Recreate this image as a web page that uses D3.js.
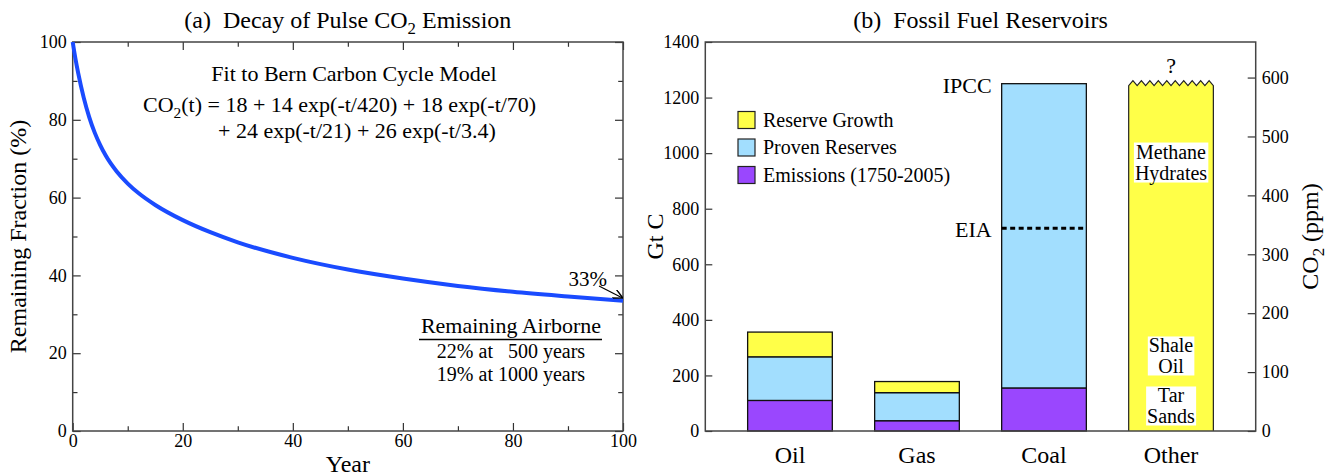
<!DOCTYPE html>
<html>
<head>
<meta charset="utf-8">
<script src="https://cdn.jsdelivr.net/npm/d3@7"></script>
<style>
  body { margin: 0; background: #fff; }
  svg text { font-family: "Liberation Serif", "Times New Roman", serif; fill: #000; }
</style>
</head>
<body>
<div id="chart"></div>
<script>
// (a) remaining airborne fraction of a CO2 pulse
const years = [0, 0.5, 1, 2, 3, 4, 5, 6, 8, 10, 12, 15, 20, 25, 30, 40, 50, 60, 70, 80, 90, 100];
const remaining = [100, 95.7, 92.0, 85.7, 80.7, 76.7, 73.5, 70.8, 66.7, 63.6, 61.1, 58.1, 54.2, 51.1, 48.5, 44.5, 41.5, 39.2, 37.3, 35.8, 34.6, 33.5];
const yearTicks = [0, 10, 20, 30, 40, 50, 60, 70, 80, 90, 100];
const fractionTicks = [0, 10, 20, 30, 40, 50, 60, 70, 80, 90, 100];

// (b) fossil fuel reservoirs, Gt C
const fuels = ["Oil", "Gas", "Coal", "Other"];
const emissions = [110, 37, 155, 0];
const proven = [157, 101, 1095, 0];
const reserveGrowth = [89, 40, 0, 1250];
const eiaCoal = 730;
const gtcTicks = [0, 200, 400, 600, 800, 1000, 1200, 1400];
const ppmTicks = [0, 100, 200, 300, 400, 500, 600];
const gtcPerPpm = 2.12;
const legendLabels = ["Reserve Growth", "Proven Reserves", "Emissions (1750-2005)"];
const colors = { growth: "#ffff48", proven: "#a2defe", emis: "#9a47fe" };

const W = 1328, H = 476;
const svg = d3.select("#chart").append("svg").attr("width", W).attr("height", H);

// arrow marker
svg.append("defs").append("marker")
  .attr("id", "arrow").attr("viewBox", "0 0 10 10").attr("refX", 9).attr("refY", 5)
  .attr("markerWidth", 8).attr("markerHeight", 8).attr("orient", "auto")
  .append("path").attr("d", "M0,0 L10,5 L0,10").attr("fill", "none").attr("stroke", "#000").attr("stroke-width", 1.5);

// inward ticks, minor ones shorter
function addTicks(axisGen, tx, ty, values, isMajor, showLabels, size = 8) {
  const g = svg.append("g").attr("transform", `translate(${tx},${ty})`)
    .call(axisGen.tickValues(values).tickSizeOuter(0).tickSizeInner(-size).tickPadding(6)
      .tickFormat(d => showLabels && isMajor(d) ? d : ""));
  g.select(".domain").remove();
  g.attr("font-family", "Liberation Serif").attr("font-size", 18);
  g.selectAll(".tick line").attr("stroke", "#333").attr("stroke-width", 1.2)
    .each(function (d) {
      if (isMajor(d)) return;
      const l = d3.select(this);
      ["x2", "y2"].forEach(a => { const v = +l.attr(a); if (v) l.attr(a, v * 0.6); });
    });
  return g;
}

// subscript helper: "CO" + "2" + rest
function co2(t, before, after, size) {
  t.append("tspan").text(before + "CO");
  t.append("tspan").attr("dy", size * 0.25).attr("font-size", size * 0.7).text("2");
  t.append("tspan").attr("dy", -size * 0.25).text(after);
}

// ---------- panel (a) ----------
const A = { left: 72.7, right: 623, top: 42, bottom: 431 };
const xA = d3.scaleLinear().domain([0, 100]).range([A.left, A.right]);
const yA = d3.scaleLinear().domain([0, 100]).range([A.bottom, A.top]);
const major20 = d => d % 20 === 0;

addTicks(d3.axisBottom(xA), 0, A.bottom, yearTicks, major20, true).call(g => g.selectAll("text").attr("y", 3));
addTicks(d3.axisTop(xA), 0, A.top, yearTicks, major20, false);
addTicks(d3.axisLeft(yA), A.left, 0, fractionTicks, major20, true);
addTicks(d3.axisRight(yA), A.right, 0, fractionTicks, major20, false);

svg.append("rect").attr("x", A.left).attr("y", A.top)
  .attr("width", A.right - A.left).attr("height", A.bottom - A.top)
  .attr("fill", "none").attr("stroke", "#444").attr("stroke-width", 1.5);

const line = d3.line().x((d, i) => xA(years[i])).y(d => yA(d)).curve(d3.curveMonotoneX);
svg.append("path").datum(remaining).attr("d", line)
  .attr("fill", "none").attr("stroke", "#1a4bff").attr("stroke-width", 4);

svg.append("text").attr("x", (A.left + A.right) / 2).attr("y", 28).attr("text-anchor", "middle")
  .attr("font-size", 24).style("white-space", "pre")
  .call(t => co2(t, "(a)  Decay of Pulse ", " Emission", 24));

svg.append("text").attr("x", (A.left + A.right) / 2).attr("y", 472).attr("text-anchor", "middle")
  .attr("font-size", 24).text("Year");
svg.append("text").attr("transform", `translate(26,${(A.top + A.bottom) / 2}) rotate(-90)`)
  .attr("text-anchor", "middle").attr("font-size", 24).text("Remaining Fraction (%)");

svg.append("text").attr("x", 354).attr("y", 81).attr("text-anchor", "middle").attr("font-size", 22)
  .text("Fit to Bern Carbon Cycle Model");
svg.append("text").attr("x", 143).attr("y", 112).attr("font-size", 22)
  .call(t => co2(t, "", "(t) = 18 + 14 exp(-t/420) + 18 exp(-t/70)", 22));
svg.append("text").attr("x", 218).attr("y", 138).attr("font-size", 22)
  .text("+ 24 exp(-t/21) + 26 exp(-t/3.4)");

svg.append("text").attr("x", 607).attr("y", 286).attr("text-anchor", "end").attr("font-size", 21).text("33%");
svg.append("line").attr("x1", 599).attr("y1", 286).attr("x2", xA(100) - 1).attr("y2", yA(remaining[remaining.length - 1]) - 3)
  .attr("stroke", "#000").attr("stroke-width", 1.2).attr("marker-end", "url(#arrow)");

svg.append("text").attr("x", 511).attr("y", 333).attr("text-anchor", "middle").attr("font-size", 22).text("Remaining Airborne");
svg.append("line").attr("x1", 419).attr("x2", 602).attr("y1", 339.5).attr("y2", 339.5).attr("stroke", "#000").attr("stroke-width", 1.3);
svg.append("text").attr("x", 511).attr("y", 358).attr("text-anchor", "middle").attr("font-size", 20)
  .style("white-space", "pre").text("22% at   500 years");
svg.append("text").attr("x", 511).attr("y", 381).attr("text-anchor", "middle").attr("font-size", 20)
  .text("19% at 1000 years");

// ---------- panel (b) ----------
const B = { left: 705.3, right: 1255.7, top: 42, bottom: 431 };
const xB = d3.scaleBand().domain(fuels).range([B.left, B.right]).paddingInner(1 / 3).paddingOuter(1 / 3);
const yB = d3.scaleLinear().domain([0, 1400]).range([B.bottom, B.top]);
const yPpm = d3.scaleLinear().domain([0, 1400 / gtcPerPpm]).range([B.bottom, B.top]);

addTicks(d3.axisLeft(yB), B.left, 0, gtcTicks, () => true, true, 7);
addTicks(d3.axisRight(yPpm), B.right, 0, ppmTicks, () => true, true, 8);

const table = fuels.map((f, i) => ({ fuel: f, emis: emissions[i], proven: proven[i], growth: reserveGrowth[i] }));
const stacked = d3.stack().keys(["emis", "proven", "growth"])(table);

const barG = svg.append("g");
stacked.forEach(layer => {
  barG.selectAll(null).data(layer.filter(d => d.data.fuel !== "Other" && d[1] > d[0]))
    .join("rect")
    .attr("x", d => xB(d.data.fuel)).attr("width", xB.bandwidth())
    .attr("y", d => yB(d[1])).attr("height", d => yB(d[0]) - yB(d[1]))
    .attr("fill", colors[layer.key]).attr("stroke", "#111").attr("stroke-width", 1.3);
});

// "Other" bar: open-ended top drawn as a zigzag
const ox0 = xB("Other"), ox1 = xB("Other") + xB.bandwidth();
const oTop = yB(reserveGrowth[3]) + 2;
const teeth = 10;
const zig = d3.path();
zig.moveTo(ox0, yB(0));
zig.lineTo(ox0, oTop);
for (let k = 0; k < teeth; k++) {
  zig.lineTo(ox0 + (ox1 - ox0) * (k + 0.5) / teeth, oTop - 5);
  zig.lineTo(ox0 + (ox1 - ox0) * (k + 1) / teeth, oTop);
}
zig.lineTo(ox1, yB(0));
barG.append("path").attr("d", zig.toString()).attr("fill", colors.growth)
  .attr("stroke", "#222").attr("stroke-width", 1.2);

// frame
svg.append("rect").attr("x", B.left).attr("y", B.top)
  .attr("width", B.right - B.left).attr("height", B.bottom - B.top)
  .attr("fill", "none").attr("stroke", "#444").attr("stroke-width", 1.5);

// EIA dashed estimate on coal
svg.append("line").attr("x1", xB("Coal")).attr("x2", xB("Coal") + xB.bandwidth())
  .attr("y1", yB(eiaCoal)).attr("y2", yB(eiaCoal))
  .attr("stroke", "#000").attr("stroke-width", 3).attr("stroke-dasharray", "5,3.5");
svg.append("text").attr("x", xB("Coal") - 10).attr("y", yB(eiaCoal) + 9).attr("text-anchor", "end")
  .attr("font-size", 22).text("EIA");
svg.append("text").attr("x", xB("Coal") - 10).attr("y", yB(1250) + 9).attr("text-anchor", "end")
  .attr("font-size", 22).text("IPCC");
svg.append("text").attr("x", xB("Other") + xB.bandwidth() / 2).attr("y", oTop - 13).attr("text-anchor", "middle")
  .attr("font-size", 22).text("?");

// labels inside Other bar, on white boxes
const otherLabels = [
  { lines: ["Methane", "Hydrates"], at: 968 },
  { lines: ["Shale", "Oil"], at: 270 },
  { lines: ["Tar", "Sands"], at: 90 }
];
otherLabels.forEach(lab => {
  const g = svg.append("g");
  const cx = xB("Other") + xB.bandwidth() / 2;
  const t = g.append("text").attr("text-anchor", "middle").attr("font-size", 20);
  lab.lines.forEach((s, i) => t.append("tspan").attr("x", cx)
    .attr("y", yB(lab.at) + (i - (lab.lines.length - 1) / 2) * 21 + 7).text(s));
  const bb = t.node().getBBox();
  g.insert("rect", "text").attr("x", bb.x - 1).attr("y", bb.y + 2).attr("width", bb.width + 2).attr("height", bb.height - 4)
    .attr("fill", "#fff");
});

// category labels
svg.append("g").attr("transform", `translate(0,${B.bottom})`)
  .call(d3.axisBottom(xB).tickSize(0).tickPadding(14))
  .call(g => g.select(".domain").remove())
  .attr("font-family", "Liberation Serif").attr("font-size", 24)
  .selectAll("text").attr("dy", "0.75em");

// titles
svg.append("text").attr("x", (B.left + B.right) / 2).attr("y", 28).attr("text-anchor", "middle")
  .attr("font-size", 24).style("white-space", "pre").text("(b)  Fossil Fuel Reservoirs");
svg.append("text").attr("transform", `translate(663,${(B.top + B.bottom) / 2}) rotate(-90)`)
  .attr("text-anchor", "middle").attr("font-size", 24).text("Gt C");
svg.append("text").attr("transform", `translate(1318,${(B.top + B.bottom) / 2}) rotate(-90)`)
  .attr("text-anchor", "middle").attr("font-size", 24)
  .call(t => co2(t, "", " (ppm)", 24));

// legend
const legend = svg.append("g").attr("transform", "translate(738,111.5)");
const legendColors = [colors.growth, colors.proven, colors.emis];
legendLabels.forEach((s, i) => {
  const row = legend.append("g").attr("transform", `translate(0,${i * 27.5})`);
  row.append("rect").attr("width", 17).attr("height", 17).attr("fill", legendColors[i])
    .attr("stroke", "#222").attr("stroke-width", 1.2);
  row.append("text").attr("x", 25).attr("y", 15).attr("font-size", 20).text(s);
});
</script>
</body>
</html>
